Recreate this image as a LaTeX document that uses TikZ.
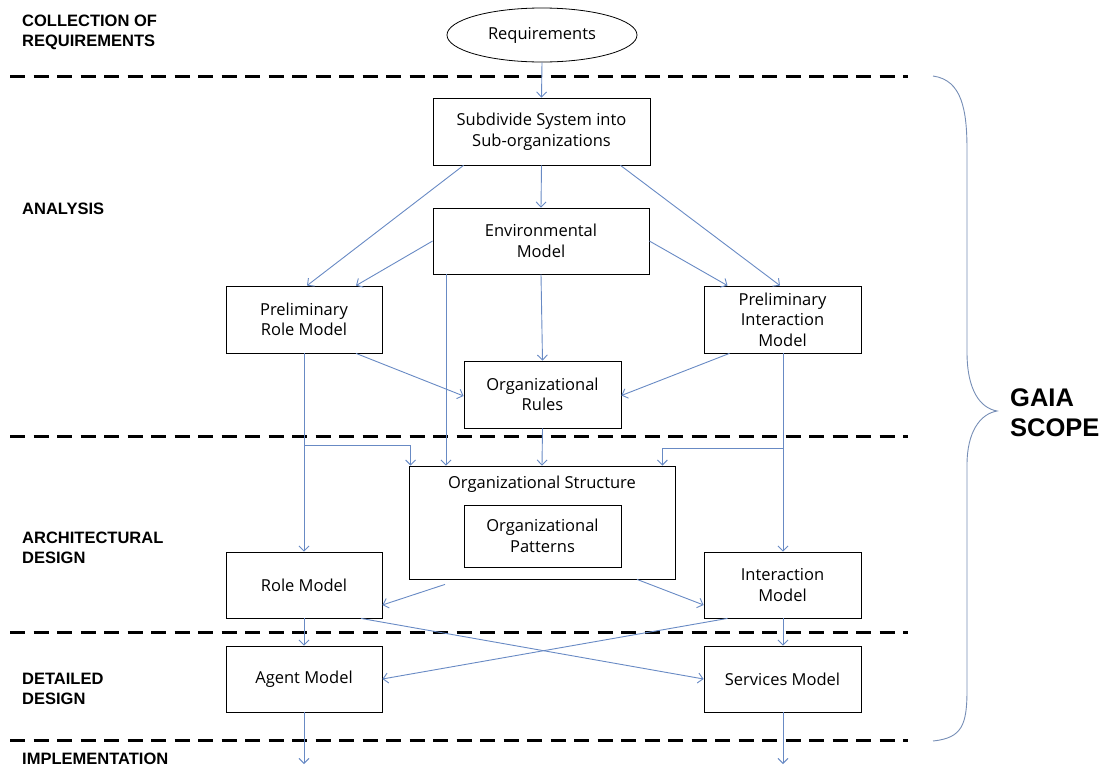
\documentclass[tikz,border=0pt]{standalone}
\usepackage{fontspec}
\setmainfont{Open Sans}
\newfontfamily\phasefont{Liberation Sans}
\usetikzlibrary{arrows.meta,calc,shapes.geometric}
\definecolor{flowc}{RGB}{104,138,196}
\definecolor{bracec}{RGB}{118,142,182}

\begin{document}
\begin{tikzpicture}[x=1pt,y=-1pt,
  box/.style={draw=black, line width=0.8pt, fill=white, align=center,
    inner sep=0pt, font=\fontsize{16.5}{20.5}\selectfont},
  oval/.style={box, ellipse},
  flow/.style={draw=flowc, line width=0.9pt, -{Straight Barb[length=5pt,width=10pt]}},
  plain/.style={draw=flowc, line width=0.9pt},
  sep/.style={line width=3pt, dash pattern=on 15pt off 8.5pt},
  phase/.style={font=\phasefont\bfseries\fontsize{16.5}{20}\selectfont,
    anchor=north west, align=left, inner sep=0pt},
  scope/.style={font=\phasefont\bfseries\fontsize{25.5}{30}\selectfont,
    anchor=north west, align=left, inner sep=0pt},
]
\useasboundingbox (0,0) rectangle (1109,766);

% phase separators
\foreach \y in {76,436,632,740}
  \draw[sep] (10,\y) -- (908,\y);

% phase names
\node[phase] (p1) at (22,15) {COLLECTION OF\\REQUIREMENTS};
\node[phase] (p2) at (22,203) {ANALYSIS};
\node[phase] (p3) at (22,532) {ARCHITECTURAL\\DESIGN};
\node[phase] (p4) at (22,673) {DETAILED\\DESIGN};
\node[phase] (p5) at (22,753) {IMPLEMENTATION};

% models
\node[oval, minimum width=190, minimum height=54] (req) at (542,35) {Requirements};
\node[box, minimum width=217, minimum height=67] (sub) at (541.5,131.5) {Subdivide System into\\Sub-organizations};
\node[box, minimum width=216, minimum height=66] (env) at (541,241) {Environmental\\Model};
\node[box, minimum width=156, minimum height=67] (prole) at (304,319.5) {Preliminary\\Role Model};
\node[box, minimum width=157, minimum height=67] (pint) at (782.5,319.5) {Preliminary\\Interaction\\Model};
\node[box, minimum width=157, minimum height=67] (orules) at (542.5,394.5) {Organizational\\Rules};
\node[box, minimum width=266, minimum height=113] (ostruct) at (542,522.5) {};
\node[font=\fontsize{16.5}{20.5}\selectfont, inner sep=0pt] (ostitle) at (542,484) {Organizational Structure};
\node[box, minimum width=157, minimum height=62] (opat) at (542.5,536) {Organizational\\Patterns};
\node[box, minimum width=156, minimum height=66] (role) at (304,585) {Role Model};
\node[box, minimum width=157, minimum height=66] (int) at (782.5,585) {Interaction\\Model};
\node[box, minimum width=156, minimum height=66] (agent) at (304,679) {\raisebox{-1.5pt}{Agent Model}};
\node[box, minimum width=157, minimum height=66] (serv) at (782.5,679) {Services Model};

% helper points
\coordinate (envx) at (446,0);
\coordinate (jl) at (304,445);
\coordinate (jr) at (783,448);
\coordinate (imp1) at (304,764);
\coordinate (imp2) at (783,764);

% connectors
\draw[flow] (req.south) -- (sub.north);
\draw[flow] (sub.south) -- (env.north);
\draw[flow] ($(sub.south)+(-78,0)$) -- ($(prole.north)+(3,0)$);
\draw[flow] (env.west) -- ($(prole.north)+(52,0)$);
\draw[flow] ($(sub.south)+(79,0)$) -- ($(pint.north)+(-2.5,0)$);
\draw[flow] (env.east) -- ($(pint.north)+(-55,0)$);
\draw[flow] (env.south) -- (orules.north);
\draw[flow] ($(prole.south)+(52,0)$) -- ($(orules.west)+(0,1.5)$);
\draw[flow] ($(pint.south)+(-53,0)$) -- ($(orules.east)+(0,1)$);
\draw[flow] (env.south -| envx) -- (ostruct.north -| envx);
\draw[flow] (orules.south) -- (ostruct.north);
\draw[flow] (prole.south) -- (role.north);
\draw[plain] (prole.south) -- (jl);
\draw[flow] (jl) -| ($(ostruct.north west)+(2,0)$);
\draw[flow] (pint.south -| jr) -- (int.north -| jr);
\draw[flow] (jr) -| ($(ostruct.north east)+(-13,0)$);
\draw[flow] ($(ostruct.south)+(-97,5)$) -- ($(role.east)+(0,20)$);
\draw[flow] ($(ostruct.south)+(95,0)$) -- ($(int.west)+(0,20)$);
\draw[flow] (role.south) -- (agent.north);
\draw[flow] (int.south -| jr) -- (serv.north -| jr);
\draw[flow] ($(role.south)+(57,0)$) -- (serv.west);
\draw[flow] ($(int.south)+(-55,0)$) -- (agent.east);
\draw[flow] (agent.south) -- (imp1);
\draw[flow] (serv.south -| jr) -- (imp2);

% scope brace
\coordinate (btop) at (933,76);
\coordinate (btip) at (997,411);
\coordinate (bbot) at (933,741);
\draw[bracec, line width=0.9pt]
  (btop) .. controls (962,80) and (967,110) .. (967,150)
  -- (967,352) .. controls (967,390) and (980,408) .. (btip)
  .. controls (980,414) and (967,432) .. (967,465)
  -- (967,690) .. controls (967,725) and (962,738) .. (bbot);
\node[scope] (gaia) at (1010,388) {GAIA\\SCOPE};
\end{tikzpicture}
\end{document}
